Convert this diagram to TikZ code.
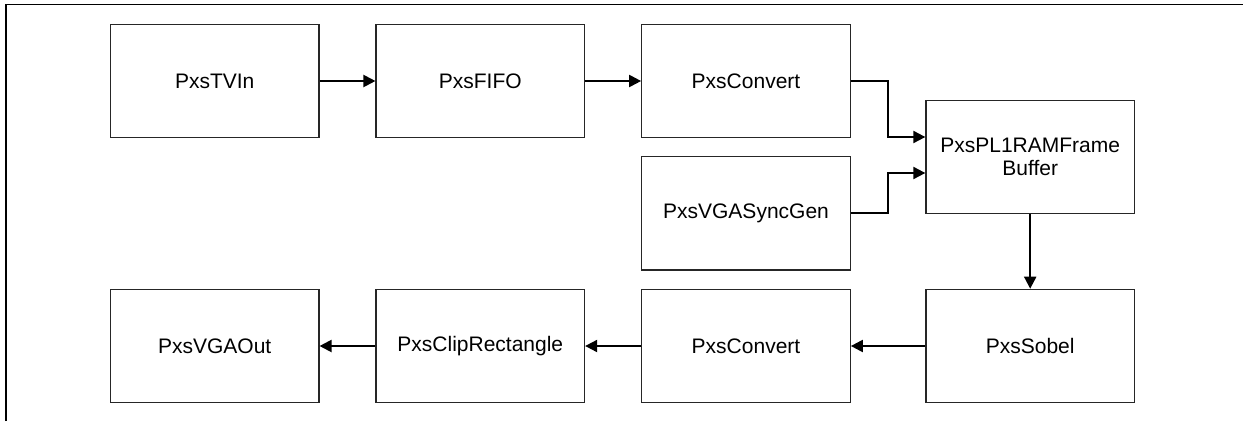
\documentclass[tikz,border=0pt]{standalone}
\usepackage{fontspec}
\setmainfont{Liberation Sans}
\usetikzlibrary{arrows.meta}
\begin{document}
\begin{tikzpicture}[x=1pt,y=-1pt,
  blk/.style={draw=black!85, line width=1.2pt, fill=white, minimum width=208.5pt, minimum height=113.4pt, inner sep=0pt, align=center, font=\fontsize{21}{23.3}\selectfont},
  conn/.style={draw=black, line width=2pt, -{Triangle[length=12pt,width=12pt]}}]
\useasboundingbox (0,0) rectangle (1243,421);
\draw[line width=1.4pt] (6,421) -- (6,4.3) -- (1243,4.3);
\node[blk] (tvin) at (214.7,81) {PxsTVIn};
\node[blk] (fifo) at (480.3,81) {PxsFIFO};
\node[blk] (conv1) at (746,81) {PxsConvert};
\node[blk] (sync) at (746,213.3) {PxsVGASyncGen};
\node[blk] (fb) at (1030.2,157) {PxsPL1RAMFrame\\Buffer};
\node[blk] (sobel) at (1030.2,346) {PxsSobel};
\node[blk] (conv2) at (746,346) {PxsConvert};
\node[blk] (clip) at (480.3,346) {PxsClipRectangle};
\node[blk] (out) at (214.7,346) {PxsVGAOut};
\coordinate (b1) at (888,81);
\coordinate (b2) at (888,213.3);
\draw[conn] (tvin) -- (fifo);
\draw[conn] (fifo) -- (conv1);
\draw[conn] (conv1.east) -- (b1) |- ([yshift=20pt]fb.west);
\draw[conn] (sync.east) -- (b2) |- ([yshift=-16pt]fb.west);
\draw[conn] (fb) -- (sobel);
\draw[conn] (sobel) -- (conv2);
\draw[conn] (conv2) -- (clip);
\draw[conn] (clip) -- (out);
\end{tikzpicture}
\end{document}
